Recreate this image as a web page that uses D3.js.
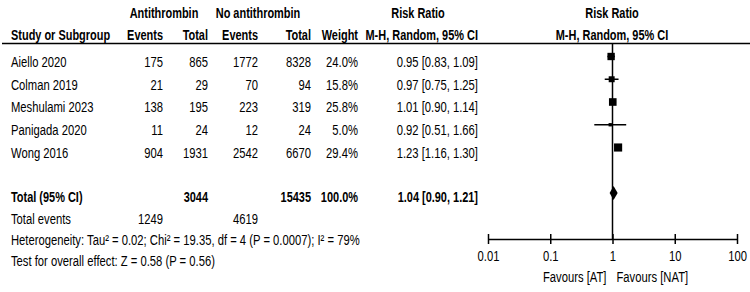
<!DOCTYPE html>
<html><head><meta charset="utf-8">
<script src="https://cdn.jsdelivr.net/npm/d3@7"></script>
<style>
html,body{margin:0;padding:0;background:#fff;}
svg text{font-family:"Liberation Sans",Arial,sans-serif;font-size:15px;fill:#000;}
.b{font-weight:bold;}
</style></head>
<body>
<script>
const studies = ["Aiello 2020","Colman 2019","Meshulami 2023","Panigada 2020","Wong 2016"];
const atEvents = [175, 21, 138, 11, 904];
const atTotal = [865, 29, 195, 24, 1931];
const natEvents = [1772, 70, 223, 12, 2542];
const natTotal = [8328, 94, 319, 24, 6670];
const weights = [24.0, 15.8, 25.8, 5.0, 29.4];
const rr = [0.95, 0.97, 1.01, 0.92, 1.23];
const lo = [0.83, 0.75, 0.90, 0.51, 1.16];
const hi = [1.09, 1.25, 1.14, 1.66, 1.30];
const total = {label:"Total (95% CI)", atTotal:3044, natTotal:15435, weight:100.0, rr:1.04, lo:0.90, hi:1.21};
const totalEvents = {label:"Total events", at:1249, nat:4619};
const heterogeneity = "Heterogeneity: Tau² = 0.02; Chi² = 19.35, df = 4 (P = 0.0007); I² = 79%";
const overall = "Test for overall effect: Z = 0.58 (P = 0.56)";
const tickValues = [0.01, 0.1, 1, 10, 100];
const tickLabels = ["0.01","0.1","1","10","100"];
const favours = ["Favours [AT]", "Favours [NAT]"];

const W = 750, H = 292;
const svg = d3.select("body").append("svg").attr("width", W).attr("height", H);

const x = d3.scaleLog().domain([0.01, 100]).range([488, 737]);
const rowY = d3.scalePoint().domain(studies).range([56.5, 147.5]);
const yTotal = 193;
const fmt2 = d3.format(".2f");
const pct = d => d3.format(".1f")(d) + "%";

const col = {study: 11, atE: 163, atT: 208, natE: 258, natT: 311, w: 358, rr: 478};

// headers
svg.append("text").attr("class","b").attr("x",164).attr("y",18.5).attr("text-anchor","middle").text("Antithrombin");
svg.append("text").attr("class","b").attr("x",258).attr("y",18.5).attr("text-anchor","middle").text("No antithrombin");
svg.append("text").attr("class","b").attr("x",418).attr("y",18.5).attr("text-anchor","middle").text("Risk Ratio");
svg.append("text").attr("class","b").attr("x",612).attr("y",18.5).attr("text-anchor","middle").text("Risk Ratio");
const h2 = [["Study or Subgroup",col.study,"start"],["Events",col.atE,"end"],["Total",col.atT,"end"],["Events",col.natE,"end"],["Total",col.natT,"end"],["Weight",col.w,"end"],["M-H, Random, 95% CI",col.rr,"end"],["M-H, Random, 95% CI",612,"middle"]];
h2.forEach(([t,xx,a]) => svg.append("text").attr("class","b").attr("x",xx).attr("y",40.5).attr("text-anchor",a).text(t));
svg.append("line").attr("x1",2).attr("x2",750).attr("y1",43.5).attr("y2",43.5).attr("stroke","#000").attr("stroke-width",1.5);

// study rows
const off = 10.5;
studies.forEach((s,i) => {
  const y = rowY(s) + off;
  svg.append("text").attr("x",col.study).attr("y",y).text(s);
  [[atEvents[i],col.atE],[atTotal[i],col.atT],[natEvents[i],col.natE],[natTotal[i],col.natT]].forEach(([v,xx]) =>
    svg.append("text").attr("x",xx).attr("y",y).attr("text-anchor","end").text(v));
  svg.append("text").attr("x",col.w).attr("y",y).attr("text-anchor","end").text(pct(weights[i]));
  svg.append("text").attr("x",col.rr).attr("y",y).attr("text-anchor","end").text(`${fmt2(rr[i])} [${fmt2(lo[i])}, ${fmt2(hi[i])}]`);
});

// total row
const ty = 202.5;
svg.append("text").attr("class","b").attr("x",col.study).attr("y",ty).text(total.label);
svg.append("text").attr("class","b").attr("x",col.atT).attr("y",ty).attr("text-anchor","end").text(total.atTotal);
svg.append("text").attr("class","b").attr("x",col.natT).attr("y",ty).attr("text-anchor","end").text(total.natTotal);
svg.append("text").attr("class","b").attr("x",col.w).attr("y",ty).attr("text-anchor","end").text(pct(total.weight));
svg.append("text").attr("class","b").attr("x",col.rr).attr("y",ty).attr("text-anchor","end").text(`${fmt2(total.rr)} [${fmt2(total.lo)}, ${fmt2(total.hi)}]`);

svg.append("text").attr("x",col.study).attr("y",224.5).text(totalEvents.label);
svg.append("text").attr("x",col.atE).attr("y",224.5).attr("text-anchor","end").text(totalEvents.at);
svg.append("text").attr("x",col.natE).attr("y",224.5).attr("text-anchor","end").text(totalEvents.nat);
svg.append("text").attr("x",col.study).attr("y",245.5).text(heterogeneity);
svg.append("text").attr("x",col.study).attr("y",266.5).text(overall);

// plot
const axisY = 239;
svg.append("line").attr("x1",x(1)).attr("x2",x(1)).attr("y1",43.5).attr("y2",axisY).attr("stroke","#000").attr("stroke-width",1.5);

studies.forEach((s,i) => {
  const y = rowY(s);
  svg.append("line").attr("x1",x(lo[i])).attr("x2",x(hi[i])).attr("y1",y).attr("y2",y).attr("stroke","#000").attr("stroke-width",1.5);
  const side = 1.5*Math.sqrt(weights[i]);
  svg.append("rect").attr("x",x(rr[i])-side/2).attr("y",y-side/2).attr("width",side).attr("height",side).attr("fill","#000");
});

svg.append("path").attr("d",`M${x(total.lo)},${yTotal} L${x(total.rr)},${yTotal-7} L${x(total.hi)},${yTotal} L${x(total.rr)},${yTotal+7} Z`).attr("fill","#000");

const axis = d3.axisBottom(x).tickValues(tickValues).tickFormat((d,i)=>tickLabels[i]).tickSizeInner(5).tickSizeOuter(0).tickPadding(6);
const g = svg.append("g").attr("transform",`translate(0,${axisY})`).call(axis);
g.select(".domain").attr("stroke","#000").attr("stroke-width",1.5);
g.selectAll(".tick line").attr("stroke","#000").attr("stroke-width",1.5).attr("y1",-5).attr("y2",5);
g.selectAll(".tick text").attr("font-size",null).attr("font-family",null).attr("dy",null).attr("y",22);

svg.append("text").attr("x",x(1)-6).attr("y",282).attr("text-anchor","end").text(favours[0]);
svg.append("text").attr("x",x(1)+4).attr("y",282).attr("text-anchor","start").text(favours[1]);

// emulate a narrow typeface: squeeze every text horizontally about its anchor
svg.selectAll("text").each(function(){
  const k = this.classList.contains("b") ? 0.73 : 0.75;
  const x0 = +(this.getAttribute("x") || 0);
  d3.select(this).attr("x", x0 / k).attr("transform", `scale(${k},1)`);
});
</script>
</body></html>
